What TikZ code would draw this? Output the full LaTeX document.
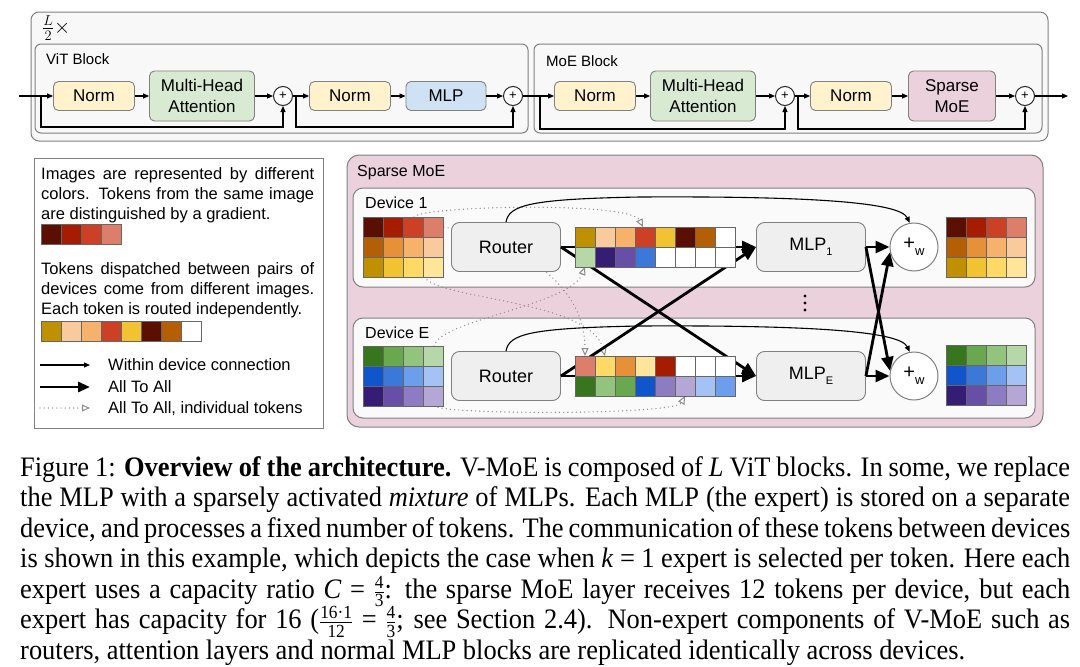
\documentclass[tikz,border=0pt]{standalone}
\usepackage{fontspec}
\usepackage{graphicx}
\setmainfont{Liberation Serif}
\newfontfamily\dsans{Liberation Sans}
\usetikzlibrary{arrows.meta}
% token colours
\definecolor{rA}{HTML}{5B0F00}\definecolor{rB}{HTML}{A61C00}\definecolor{rC}{HTML}{CC4125}\definecolor{rD}{HTML}{DD7E6B}
\definecolor{oA}{HTML}{B45F06}\definecolor{oB}{HTML}{E69138}\definecolor{oC}{HTML}{F6B26B}\definecolor{oD}{HTML}{F9CB9C}
\definecolor{yA}{HTML}{BF9000}\definecolor{yB}{HTML}{F1C232}\definecolor{yC}{HTML}{FFD966}\definecolor{yD}{HTML}{FFE599}
\definecolor{gA}{HTML}{38761D}\definecolor{gB}{HTML}{6AA84F}\definecolor{gC}{HTML}{93C47D}\definecolor{gD}{HTML}{B6D7A8}
\definecolor{bA}{HTML}{1155CC}\definecolor{bB}{HTML}{3C78D8}\definecolor{bC}{HTML}{6D9EEB}\definecolor{bD}{HTML}{A4C2F4}
\definecolor{pA}{HTML}{351C75}\definecolor{pB}{HTML}{674EA7}\definecolor{pC}{HTML}{8E7CC3}\definecolor{pD}{HTML}{B4A7D6}
% box colours
\definecolor{normc}{HTML}{FFF2CC}\definecolor{mhac}{HTML}{D9EAD3}\definecolor{mlpc}{HTML}{CFE2F3}
\definecolor{smoec}{HTML}{EAD1DC}\definecolor{grayfill}{HTML}{EFEFEF}\definecolor{edgec}{HTML}{808080}
\definecolor{panel}{HTML}{F8F8F8}\definecolor{devpanel}{HTML}{FAFAFA}\definecolor{dotc}{HTML}{8C8C8C}
\definecolor{cellc}{HTML}{666666}
\newcommand\tokrow[3]{\foreach \cc [count=\ii from 0] in {#3}{\filldraw[fill=\cc,draw=cellc,line width=0.8pt] ({#1+20*\ii},#2) rectangle ++(20,20);}}
\newcommand\capline[1]{\scalebox{0.9375}[1]{\hbox to 1120pt{#1}}}
\newcommand\capend[1]{\scalebox{0.9375}[1]{\hbox{#1}}}
\newcommand\capfr[2]{$\textstyle{\hbox{\fontsize{18.5}{19}\selectfont #1}\over\hbox{\fontsize{18.5}{19}\selectfont #2}}$}
\begin{document}
\begin{tikzpicture}[x=1pt,y=-1pt,
  ln/.style={line width=1.1pt,-{Triangle[length=6pt,width=5pt]}},
  thk/.style={line width=2.8pt,-{Triangle[length=14pt,width=12pt]}},
  dotl/.style={draw=dotc,line width=1.4pt,line cap=round,dash pattern=on 0pt off 4.2pt,-{Triangle[open,length=8pt,width=7pt,line width=1pt]}},
  blk/.style={draw=edgec,line width=0.9pt,rounded corners=5pt,inner sep=0pt,align=center,font={\dsans\fontsize{17}{21}\selectfont}},
  normbox/.style={blk,fill=normc,minimum width=81pt,minimum height=29pt},
  mhabox/.style={blk,fill=mhac,minimum width=105pt,minimum height=50pt},
  mlpbox/.style={blk,fill=mlpc,minimum width=80pt,minimum height=29pt},
  smoebox/.style={blk,fill=smoec,minimum width=87pt,minimum height=50pt},
  plusc/.style={circle,draw=black!85,line width=1pt,fill=white,minimum size=19pt,inner sep=0pt,font={\dsans\fontsize{13}{13}\selectfont}},
  grbox/.style={draw=edgec,line width=0.9pt,rounded corners=8pt,fill=grayfill,inner sep=0pt,minimum width=109pt,minimum height=49pt,font={\dsans\fontsize{18}{22}\selectfont}},
  pw/.style={circle,draw=edgec,line width=1pt,fill=white,minimum size=48pt,inner sep=0pt,font={\dsans\fontsize{20}{20}\selectfont}},
  lab/.style={inner sep=0pt,font={\dsans\fontsize{16}{20}\selectfont}},
  lgtext/.style={inner sep=0pt,font={\dsans\fontsize{16.5}{20}\selectfont}},
  captext/.style={inner sep=0pt,font={\fontsize{28.2}{31}\selectfont}}
]
\useasboundingbox (0,0) rectangle (1080,667);
% ================= top: block diagram =================
\draw[fill=panel,draw=edgec,line width=1pt,rounded corners=8pt] (31,12) rectangle (1048,141);
\draw[fill=panel,draw=edgec,line width=1pt,rounded corners=6pt] (35,44) rectangle (528,133);
\draw[fill=panel,draw=edgec,line width=1pt,rounded corners=6pt] (534,44) rectangle (1042,133);
\node[anchor=west,inner sep=0pt,font=\fontsize{20}{20}\selectfont] (rep) at (42,28) {$\frac{L}{2}\times$};
\node[lab,anchor=west,font={\dsans\fontsize{15}{18}\selectfont}] (vitl) at (46,59) {ViT Block};
\node[lab,anchor=west,font={\dsans\fontsize{15}{18}\selectfont}] (moel) at (546,61) {MoE Block};
\coordinate (in) at (19,96);
\coordinate (out) at (1068,96);
\node[normbox] (n1) at (94,96) {Norm};
\node[mhabox] (a1) at (202,96) {Multi-Head\\Attention};
\node[plusc] (s1) at (283,96) {+};
\node[normbox] (n2) at (350,96) {Norm};
\node[mlpbox] (f1) at (446,96) {MLP};
\node[plusc] (s2) at (513,96) {+};
\node[normbox] (n3) at (595,96) {Norm};
\node[mhabox] (a2) at (703,96) {Multi-Head\\Attention};
\node[plusc] (s3) at (785,96) {+};
\node[normbox] (n4) at (851,96) {Norm};
\node[smoebox] (f2) at (952,96) {Sparse\\MoE};
\node[plusc] (s4) at (1025,96) {+};
\coordinate (j1) at (41,96);
\coordinate (j2) at (296,96);
\coordinate (j3) at (540,96);
\coordinate (j4) at (798,96);
\draw[ln] (in) -- (n1);
\draw[ln] (n1) -- (a1);
\draw[ln] (a1) -- (s1);
\draw[ln] (s1) -- (n2);
\draw[ln] (n2) -- (f1);
\draw[ln] (f1) -- (s2);
\draw[ln] (s2) -- (n3);
\draw[ln] (n3) -- (a2);
\draw[ln] (a2) -- (s3);
\draw[ln] (s3) -- (n4);
\draw[ln] (n4) -- (f2);
\draw[ln] (f2) -- (s4);
\draw[ln] (s4) -- (out);
\draw[ln] (j1) -- ++(0,31) -| (s1);
\draw[ln] (j2) -- ++(0,31) -| (s2);
\draw[ln] (j3) -- ++(0,33) -| (s3);
\draw[ln] (j4) -- ++(0,33) -| (s4);
% ================= legend =================
\draw[fill=white,draw=edgec,line width=1pt] (34,158) rectangle (323,428);
\node[lgtext,anchor=base west] (lg1) at (41,179) {\hbox to 273pt{Images are represented by different}};
\node[lgtext,anchor=base west] (lg2) at (41,199) {\hbox to 273pt{colors. Tokens from the same image}};
\node[lgtext,anchor=base west] (lg3) at (41,219) {are distinguished by a gradient.};
\tokrow{41}{224}{rA,rB,rC,rD}
\node[lgtext,anchor=base west] (lg4) at (41,274) {\hbox to 273pt{Tokens dispatched between pairs of}};
\node[lgtext,anchor=base west] (lg5) at (41,294) {\hbox to 273pt{devices come from different images.}};
\node[lgtext,anchor=base west] (lg6) at (41,314) {Each token is routed independently.};
\tokrow{41}{321}{yA,oD,oC,rC,yB,rA,oA,white}
\coordinate (la1) at (40,365); \coordinate (lb1) at (90,365);
\coordinate (la2) at (40,387); \coordinate (lb2) at (90,387);
\coordinate (la3) at (40,408); \coordinate (lb3) at (90,408);
\draw[ln] (la1) -- (lb1);
\draw[line width=2.8pt,-{Triangle[length=12pt,width=10pt]}] (la2) -- (lb2);
\draw[dotl] (la3) -- (lb3);
\node[lgtext,anchor=west] (lt1) at (108,365) {Within device connection};
\node[lgtext,anchor=west] (lt2) at (108,387) {All To All};
\node[lgtext,anchor=west] (lt3) at (108,409) {All To All, individual tokens};
% ================= sparse MoE =================
\draw[fill=smoec,draw=edgec,line width=1pt,rounded corners=12pt] (347,155) rectangle (1043,427);
\node[lab,anchor=west] (smt) at (357,173) {Sparse MoE};
\draw[fill=devpanel,draw=edgec,line width=1pt,rounded corners=10pt] (353,188) rectangle (1035,287);
\draw[fill=devpanel,draw=edgec,line width=1pt,rounded corners=10pt] (353,318) rectangle (1035,418);
\node[lab,anchor=west] (d1t) at (365,203) {Device 1};
\node[lab,anchor=west] (det) at (365,333) {Device E};
% endpoints of individual tokens
\coordinate (ta) at (414,217); \coordinate (ea) at (643,227);
\coordinate (tb) at (444,227); \coordinate (eb) at (585,356);
\coordinate (tc) at (424,277); \coordinate (ec) at (605,356);
\coordinate (td) at (434,346); \coordinate (ed) at (585,267);
\coordinate (te) at (434,406); \coordinate (ee) at (685,396);
\draw[dotl] (ta) .. controls (420,206) and (630,201) .. (ea);
\draw[dotl] (tb) .. controls (530,245) and (585,290) .. (eb);
\draw[dotl] (tc) .. controls (440,300) and (590,300) .. (ec);
\draw[dotl] (td) .. controls (440,320) and (570,305) .. (ed);
\draw[dotl] (te) .. controls (445,415) and (675,415) .. (ee);
% nodes
\node[grbox] (r1) at (506,247) {Router};
\node[grbox] (rE) at (506,376) {Router};
\node[grbox] (m1) at (811,247) {MLP\raisebox{-5pt}{\fontsize{11}{11}\selectfont 1}};
\node[grbox] (mE) at (811,376) {MLP\raisebox{-5pt}{\fontsize{11}{11}\selectfont E}};
\node[pw] (p1) at (914,247) {+\raisebox{-6pt}{\fontsize{13}{13}\selectfont w}};
\node[pw] (pE) at (914,376) {+\raisebox{-6pt}{\fontsize{13}{13}\selectfont w}};
% all-to-all connections (behind buffers)
\draw[thk] (r1.east) -- (m1.west);
\draw[thk] (r1.east) -- (mE.west);
\draw[thk] (rE.east) -- (mE.west);
\draw[thk] (rE.east) -- (m1.west);
\draw[thk] (m1.east) -- (p1.west);
\draw[thk] (m1.east) -- (pE.168);
\draw[thk] (mE.east) -- (pE.west);
\draw[thk] (mE.east) -- (p1.192);
% token grids
\tokrow{363}{217}{rA,rB,rC,rD}
\tokrow{363}{237}{oA,oB,oC,oD}
\tokrow{363}{257}{yA,yB,yC,yD}
\tokrow{363}{346}{gA,gB,gC,gD}
\tokrow{363}{366}{bA,bB,bC,bD}
\tokrow{363}{386}{pA,pB,pC,pD}
% dispatched buffers
\tokrow{575}{227}{yA,oD,oC,rC,yB,rA,oA,white}
\tokrow{575}{247}{gD,pA,pB,bB,white,white,white,white}
\tokrow{575}{356}{rD,yC,oB,yD,rB,white,white,white}
\tokrow{575}{376}{gA,gC,gB,bA,pC,pD,bD,bC}
% outputs
\tokrow{946}{217}{rA,rB,rC,rD}
\tokrow{946}{237}{oA,oB,oC,oD}
\tokrow{946}{257}{yA,yB,yC,yD}
\tokrow{946}{345}{gA,gB,gC,gD}
\tokrow{946}{365}{bA,bB,bC,bD}
\tokrow{946}{385}{pA,pB,pC,pD}
% within-device connections
\draw[ln] (r1.north) .. controls (509,205) and (530,199) .. (640,197) .. controls (820,196) and (900,203) .. (p1.100);
\draw[ln] (rE.north) .. controls (509,334) and (530,328) .. (640,326) .. controls (820,325) and (900,332) .. (pE.100);
% dots
\fill (805,296) circle (1.6pt);
\fill (805,303) circle (1.6pt);
\fill (805,310) circle (1.6pt);
% ================= caption =================
\node[captext,anchor=base west] (c1) at (20,476) {\capline{Figure 1: \textbf{Overview of the architecture.} V-MoE is composed of \textit{L} ViT blocks. In some, we replace}};
\node[captext,anchor=base west] (c2) at (20,506.5) {\capline{the MLP with a sparsely activated \textit{mixture} of MLPs. Each MLP (the expert) is stored on a separate}};
\node[captext,anchor=base west] (c3) at (20,537) {\capline{device, and processes a fixed number of tokens. The communication of these tokens between devices}};
\node[captext,anchor=base west] (c4) at (20,567.5) {\capline{is shown in this example, which depicts the case when \textit{k} = 1 expert is selected per token. Here each}};
\node[captext,anchor=base west] (c5) at (20,598) {\capline{expert uses a capacity ratio \textit{C} = \capfr{4}{3}: the sparse MoE layer receives 12 tokens per device, but each}};
\node[captext,anchor=base west] (c6) at (20,628.5) {\capline{expert has capacity for 16 (\capfr{16·1}{12} = \capfr{4}{3}; see Section 2.4). Non-expert components of V-MoE such as}};
\node[captext,anchor=base west] (c7) at (20,659) {\capend{routers, attention layers and normal MLP blocks are replicated identically across devices.}};
\end{tikzpicture}
\end{document}
